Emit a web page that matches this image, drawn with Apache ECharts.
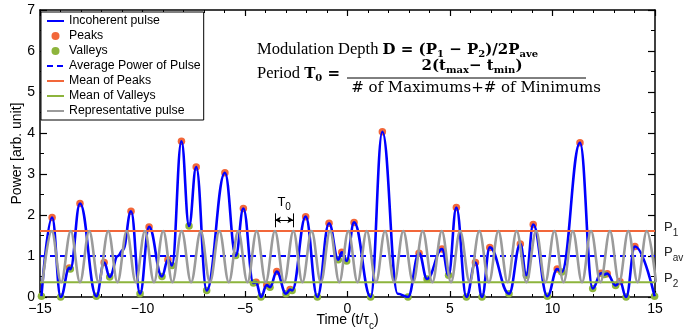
<!DOCTYPE html>
<html><head><meta charset="utf-8">
<script src="https://cdn.jsdelivr.net/npm/echarts@6/dist/echarts.min.js"></script>
<style>html,body{margin:0;padding:0;background:#fff}#c{width:684px;height:331px}</style>
</head><body><div id="c"></div>
<script>
// ---- data ----
const peakT = [-14.41, -13.57, -13.05, -11.87, -10.56, -9.68, -8.76, -8.10, -7.38, -5.98, -5.08, -4.46, -3.94, -3.45, -2.80, -2.04, -0.90, -0.28, 0.32, 1.70, 3.49, 4.61, 5.31, 6.24, 6.94, 8.43, 9.06, 10.23, 11.34, 12.37, 12.67, 13.29, 14.02];
const peakP = [1.94, 0.71, 2.28, 0.84, 2.09, 1.71, 0.91, 3.80, 3.17, 3.03, 2.16, 0.36, 0.29, 0.62, 0.18, 1.96, 1.80, 1.09, 1.82, 4.03, 1.07, 1.17, 2.18, 0.84, 1.21, 1.29, 1.77, 0.68, 3.76, 0.58, 0.57, 0.38, 1.23];
const valleyT = [-14.93, -13.99, -13.52, -12.25, -11.60, -10.12, -9.05, -8.56, -7.73, -6.87, -5.45, -4.59, -4.22, -3.78, -3.00, -2.70, -1.47, -0.45, -0.04, 1.13, 2.95, 3.88, 4.93, 5.80, 6.56, 7.88, 8.72, 9.75, 10.45, 11.96, 12.52, 13.08, 13.59, 14.98];
const valleyP = [0.02, 0.00, 0.68, 0.02, 0.49, 0.08, 0.50, 0.77, 1.73, 0.16, 1.01, 0.34, 0.00, 0.24, 0.08, 0.16, 0.00, 0.91, 0.88, 0.00, 0.00, 0.44, 0.53, 0.00, 0.00, 0.08, 0.53, 0.02, 0.61, 0.21, 0.55, 0.28, 0.00, 0.02];
// extra points on the pulse curve (shoulders / flat bottoms)
const shapeT = [-11.20, -10.95, 2.45];
const shapeP = [1.00, 1.15, 0.08];
// representative pulse: times of its maxima and minima
const grayPeakT = [-14.43,-13.50,-12.60,-11.67,-10.77,-9.88,-8.99,-8.09,-7.16,-6.25,-5.33,-4.43,-3.54,-2.64,-1.75,-0.85,0.04,0.94,1.83,2.72,3.67,4.60,5.49,6.43,7.36,8.25,9.20,10.09,10.99,11.88,12.80,13.70,14.60];
const grayTroughT = [-14.88,-13.97,-13.05,-12.14,-11.22,-10.33,-9.44,-8.54,-7.63,-6.71,-5.79,-4.88,-3.99,-3.09,-2.20,-1.30,-0.40,0.49,1.39,2.28,3.20,4.14,5.05,5.96,6.90,7.81,8.73,9.65,10.54,11.44,12.34,13.25,14.15,15.05];
const P1 = 1.61, PAV = 1.00, P2 = 0.36;
const xRange = [-15, 15];
const yRange = [0, 7];
const T0Index = [12, 13];     // gray peaks bracketed by the T0 marker
const T0Level = 1.88;

// ---- build series data ----
const zip = (a, b) => a.map((t, i) => [t, b[i]]);
const bluePts = zip(peakT, peakP).concat(zip(valleyT, valleyP), zip(shapeT, shapeP)).sort((a, b) => a[0] - b[0]);
const grayPts = grayPeakT.map(t => [t, P1]).concat(grayTroughT.map(t => [t, P2])).sort((a, b) => a[0] - b[0]);

const ORANGE = '#F2673A', GREEN = '#8DB43C', BLUE = '#0000FF', GRAY = '#9B9B9B';
const SANS = 'Liberation Sans, Arial, Helvetica, sans-serif';
const SERIF = 'Liberation Serif, Times New Roman, serif';
const MATHB = 'DejaVu Serif, serif';
const minus = v => String(v).replace('-', '\u2212');
const subRich = {p: {fontSize: 13, fontFamily: SANS, color: '#222'}, s: {fontSize: 10, fontFamily: SANS, color: '#222', padding: [12, 0, 0, 0]}};

const chart = echarts.init(document.getElementById('c'), null, {renderer: 'canvas'});
const axLine = {show: true, onZero: false, lineStyle: {color: '#000', width: 1.5}};
const t1 = grayPeakT[T0Index[0]], t2 = grayPeakT[T0Index[1]];

chart.setOption({
  animation: false,
  grid: {left: 40, right: 29, top: 10, bottom: 34, containLabel: false, outerBoundsMode: 'none'},
  legend: {
    data: [
      {name: 'Incoherent pulse', itemStyle: {opacity: 0}},
      {name: 'Peaks'},
      {name: 'Valleys'},
      {name: 'Average Power of Pulse', itemStyle: {opacity: 0}},
      {name: 'Mean of Peaks', itemStyle: {opacity: 0}},
      {name: 'Mean of Valleys', itemStyle: {opacity: 0}},
      {name: 'Representative pulse', itemStyle: {opacity: 0}}
    ],
    orient: 'vertical', left: 41, top: 12,
    itemWidth: 17, itemHeight: 8, itemGap: 3,
    padding: [3, 3, 3, 5],
    borderColor: '#000', borderWidth: 1, backgroundColor: '#fff',
    selectedMode: false,
    textStyle: {fontSize: 12.3, fontFamily: SANS, color: '#000', lineHeight: 12}
  },
  xAxis: [
    {type: 'value', min: xRange[0], max: xRange[1], interval: 5, position: 'bottom',
      axisLine: axLine, splitLine: {show: false},
      axisTick: {inside: true, length: 6, lineStyle: {color: '#000', width: 1.2}},
      minorTick: {show: true, splitNumber: 5, length: 3, lineStyle: {color: '#000', width: 1}},
      axisLabel: {color: '#000', fontSize: 14, fontFamily: SANS, margin: 5, formatter: minus},
      name: '{a|Time (t/\u03c4}{s|c}{a|)}', nameLocation: 'middle', nameGap: 13, nameMoveOverlap: false,
      nameTextStyle: {rich: {a: {fontSize: 14, fontFamily: SANS, color: '#000'}, s: {fontSize: 10, fontFamily: SANS, color: '#000', padding: [11, 0, 0, 0]}}}
    },
    {type: 'value', min: xRange[0], max: xRange[1], interval: 5, position: 'top',
      axisLine: axLine, splitLine: {show: false},
      axisTick: {inside: true, length: 6, lineStyle: {color: '#000', width: 1.2}},
      minorTick: {show: true, splitNumber: 5, length: 3, lineStyle: {color: '#000', width: 1}},
      axisLabel: {show: false}
    }
  ],
  yAxis: [
    {type: 'value', min: yRange[0], max: yRange[1], interval: 1, position: 'left',
      axisLine: axLine, splitLine: {show: false},
      axisTick: {inside: true, length: 7, lineStyle: {color: '#000', width: 1.2}},
      minorTick: {show: true, splitNumber: 2, length: 4, lineStyle: {color: '#000', width: 1}},
      axisLabel: {color: '#000', fontSize: 14, fontFamily: SANS, margin: 5},
      name: 'Power [arb. unit]', nameLocation: 'middle', nameGap: 16, nameMoveOverlap: false,
      nameTextStyle: {fontSize: 14, fontFamily: SANS, color: '#000'}
    },
    {type: 'value', min: yRange[0], max: yRange[1], interval: 1, position: 'right',
      axisLine: axLine, splitLine: {show: false},
      axisTick: {inside: true, length: 7, lineStyle: {color: '#000', width: 1.2}},
      minorTick: {show: true, splitNumber: 2, length: 4, lineStyle: {color: '#000', width: 1}},
      axisLabel: {show: false}
    }
  ],
  series: [
    {name: 'Incoherent pulse', type: 'line', data: bluePts, symbol: 'none', smooth: 0.42, smoothMonotone: 'x',
      lineStyle: {color: BLUE, width: 2.6}, itemStyle: {color: BLUE}},
    {name: 'Peaks', type: 'scatter', data: zip(peakT, peakP), symbol: 'circle', symbolSize: 7.5,
      itemStyle: {color: ORANGE, opacity: 1}},
    {name: 'Valleys', type: 'scatter', data: zip(valleyT, valleyP), symbol: 'circle', symbolSize: 7.5,
      itemStyle: {color: GREEN, opacity: 1}},
    {name: 'Average Power of Pulse', type: 'line', data: [[xRange[0], PAV], [xRange[1], PAV]], symbol: 'none',
      lineStyle: {color: BLUE, width: 2, type: [6, 4]}, itemStyle: {color: BLUE},
      endLabel: {show: true, distance: 9, offset: [0, -4], formatter: '{p|P}{s|av}', rich: subRich}},
    {name: 'Mean of Peaks', type: 'line', data: [[xRange[0], P1], [xRange[1], P1]], symbol: 'none',
      lineStyle: {color: ORANGE, width: 2}, itemStyle: {color: ORANGE},
      endLabel: {show: true, distance: 9, offset: [0, -4], formatter: '{p|P}{s|1}', rich: subRich}},
    {name: 'Mean of Valleys', type: 'line', data: [[xRange[0], P2], [xRange[1], P2]], symbol: 'none',
      lineStyle: {color: GREEN, width: 2}, itemStyle: {color: GREEN},
      endLabel: {show: true, distance: 9, offset: [0, -4], formatter: '{p|P}{s|2}', rich: subRich}},
    {name: 'Representative pulse', type: 'line', data: grayPts, symbol: 'none', smooth: 0.36, smoothMonotone: 'x',
      lineStyle: {color: GRAY, width: 2.6}, itemStyle: {color: GRAY}},
    {name: 'annot', type: 'line', data: [], silent: true,
      markLine: {silent: true, symbol: ['arrow', 'arrow'], symbolSize: [5, 6], label: {show: false},
        lineStyle: {color: '#000', width: 1, type: 'solid'}, emphasis: {disabled: true},
        data: [
          [{coord: [t1, T0Level]}, {coord: [t2, T0Level]}],
          [{coord: [t1, T0Level - 0.18], symbol: 'none'}, {coord: [t1, T0Level + 0.16], symbol: 'none'}],
          [{coord: [t2, T0Level - 0.18], symbol: 'none'}, {coord: [t2, T0Level + 0.16], symbol: 'none'}]
        ]},
      markPoint: {silent: true, symbol: 'circle', symbolSize: 1, itemStyle: {color: 'rgba(0,0,0,0)'},
        data: [{coord: [(t1 + t2) / 2, T0Level + 0.42],
          label: {show: true, position: 'inside', formatter: '{p|T}{s|0}',
            rich: {p: {fontSize: 13, fontFamily: SANS, color: '#000'}, s: {fontSize: 10, fontFamily: SANS, color: '#000', padding: [10, 0, 0, 0]}}}}]}
    }
  ],
  graphic: [
    {type: 'text', x: 257, y: 50, silent: true, style: {
      text: '{r|Modulation Depth }{b|D = (P}{bs|1}{b| \u2212 P}{bs|2}{b|)/2P}{bs|ave}', verticalAlign: 'middle',
      rich: {
        r: {fontSize: 16.5, fontFamily: SERIF, fill: '#000'},
        b: {fontSize: 15, fontFamily: MATHB, fontWeight: 'bold', fill: '#000'},
        bs: {fontSize: 10, fontFamily: MATHB, fontWeight: 'bold', fill: '#000', padding: [8, 0, 0, 0]}
      }}},
    {type: 'text', x: 257, y: 74, silent: true, style: {
      text: '{r|Period }{b|T}{bs|0}{b| =}', verticalAlign: 'middle',
      rich: {
        r: {fontSize: 16.5, fontFamily: SERIF, fill: '#000'},
        b: {fontSize: 15, fontFamily: MATHB, fontWeight: 'bold', fill: '#000'},
        bs: {fontSize: 10, fontFamily: MATHB, fontWeight: 'bold', fill: '#000', padding: [8, 0, 0, 0]}
      }}},
    {type: 'text', x: 472, y: 66.5, silent: true, style: {
      text: '{b|2(t}{bs|max}{b|\u2212 t}{bs|min}{b|)}', align: 'center', verticalAlign: 'middle',
      rich: {
        b: {fontSize: 15, fontFamily: MATHB, fontWeight: 'bold', fill: '#000'},
        bs: {fontSize: 10, fontFamily: MATHB, fontWeight: 'bold', fill: '#000', padding: [8, 0, 0, 0]}
      }}},
    {type: 'line', silent: true, shape: {x1: 347, y1: 78, x2: 586, y2: 78}, style: {stroke: '#000', lineWidth: 1}},
    {type: 'text', x: 476, y: 88, silent: true, style: {
      text: '# of Maximums+# of Minimums', align: 'center', verticalAlign: 'middle', fontSize: 15, fontFamily: MATHB, fill: '#000'}}
  ]
});
</script>
</body></html>
